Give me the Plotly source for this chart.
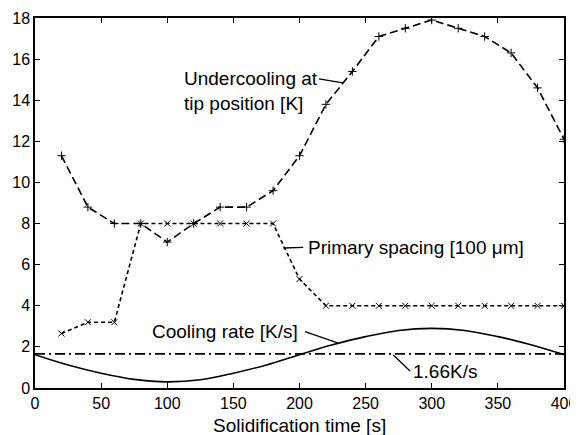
import plotly.graph_objects as go

# ---- data ----
t_pts = [20, 40, 60, 80, 100, 120, 140, 160, 180, 200,
         220, 240, 260, 280, 300, 320, 340, 360, 380, 400]
undercooling = [11.3, 8.8, 8.0, 8.0, 7.1, 8.0, 8.8, 8.8, 9.6, 11.3,
                13.8, 15.4, 17.1, 17.5, 17.9, 17.5, 17.1, 16.3, 14.6, 12.1]
spacing = [2.65, 3.2, 3.2, 8.0, 8.0, 8.0, 8.0, 8.0, 8.0, 5.3,
           4.0, 4.0, 4.0, 4.0, 4.0, 4.0, 4.0, 4.0, 4.0, 4.0]
t_cool = [0, 25, 50, 75, 100, 125, 150, 175, 200,
          225, 250, 275, 300, 325, 350, 375, 400]
cooling = [1.62, 1.12, 0.72, 0.42, 0.30, 0.40, 0.72, 1.12, 1.62,
           2.10, 2.50, 2.80, 2.90, 2.80, 2.50, 2.10, 1.62]
ref_rate = 1.66
x_ticks = [0, 50, 100, 150, 200, 250, 300, 350, 400]
y_ticks = [0, 2, 4, 6, 8, 10, 12, 14, 16, 18]

FONT = "Liberation Sans, Arial, sans-serif"

fig = go.Figure()
fig.add_trace(go.Scatter(
    x=t_pts, y=undercooling, mode="lines+markers",
    line=dict(color="black", width=1.6, dash="8px,4px"),
    marker=dict(symbol="cross-thin-open", size=6, line=dict(color="black", width=1)),
))
fig.add_trace(go.Scatter(
    x=t_pts, y=spacing, mode="lines+markers",
    line=dict(color="black", width=1.6, dash="4px,3px"),
    marker=dict(symbol="x-thin-open", size=6, line=dict(color="black", width=1)),
))
fig.add_trace(go.Scatter(
    x=t_cool, y=cooling, mode="lines",
    line=dict(color="black", width=1.6, shape="spline"),
))
fig.add_trace(go.Scatter(
    x=[x_ticks[0], x_ticks[-1]], y=[ref_rate, ref_rate], mode="lines",
    line=dict(color="black", width=1.6, dash="10px,4px,2px,4px"),
))

afont = dict(family=FONT, size=19, color="black")
annots = [
    dict(text="Undercooling at<br>tip position [K]", x=111, y=14.45, xanchor="left", yanchor="middle", align="left"),
    dict(text="Primary spacing [100 μm]", x=205, y=6.85, xanchor="left", yanchor="middle", align="left"),
    dict(text="Cooling rate [K/s]", x=87, y=2.77, xanchor="left", yanchor="middle", align="left"),
    dict(text="1.66K/s", x=284, y=0.79, xanchor="left", yanchor="middle", align="left"),
]
for a in annots:
    fig.add_annotation(xref="x", yref="y", showarrow=False, font=afont, **a)

# x-axis title
fig.add_annotation(text="Solidification time [s]", xref="paper", yref="paper",
                   x=0.5, y=0, xanchor="center", yanchor="middle", yshift=-37,
                   showarrow=False, font=afont)

leaders = [
    (214.7, 15.04, 232.9, 14.84),
    (187.7, 6.81, 202.8, 6.84),
    (204.2, 2.74, 229.3, 2.18),
    (270.9, 1.61, 283.6, 0.83),
]
for x0, y0, x1, y1 in leaders:
    fig.add_shape(type="line", xref="x", yref="y", x0=x0, y0=y0, x1=x1, y1=y1,
                  line=dict(color="black", width=1.3))

axis_common = dict(showgrid=False, zeroline=False, showline=True, linecolor="black",
                   linewidth=1.5, mirror="ticks", ticks="inside", ticklen=5,
                   tickcolor="black", tickwidth=1, automargin=False,
                   tickfont=dict(family=FONT, size=16, color="black"))
fig.update_xaxes(range=[0, 400], tickvals=x_ticks, **axis_common)
fig.update_yaxes(range=[0, 18], tickvals=y_ticks, **axis_common)

# the page body adds an 8px offset, so the figure is sized to the remaining window
fig.update_layout(
    width=570, height=427, showlegend=False,
    margin=dict(l=27, r=14, t=10, b=47),
    paper_bgcolor="white", plot_bgcolor="white",
)
fig.write_html("out.html")
